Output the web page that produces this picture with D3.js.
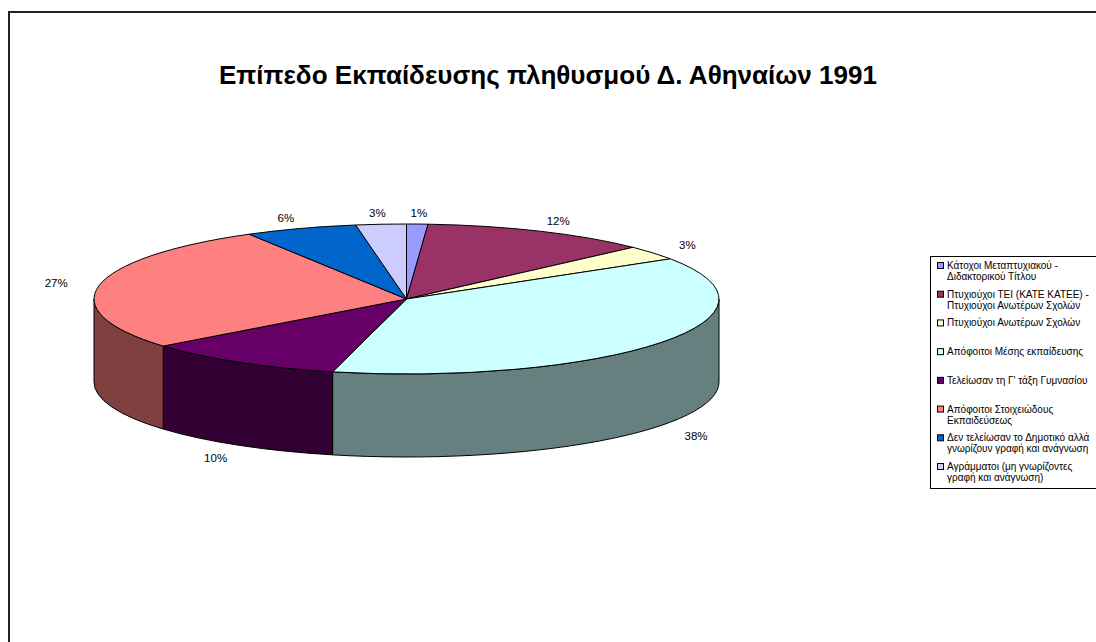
<!DOCTYPE html>
<html>
<head>
<meta charset="utf-8">
<script src="https://cdn.jsdelivr.net/npm/d3@7"></script>
<style>
  body { margin: 0; background: #fff; }
  text { font-family: "Liberation Sans", Arial, sans-serif; }
</style>
</head>
<body>
<div id="chart"></div>
<script>
const width = 1096, height = 642;

// Data (clockwise from 12 o'clock)
const categories = [
  ['Κάτοχοι Μεταπτυχιακού -', 'Διδακτορικού Τίτλου'],
  ['Πτυχιούχοι ΤΕΙ (ΚΑΤΕ ΚΑΤΕΕ) -', 'Πτυχιούχοι Ανωτέρων Σχολών'],
  ['Πτυχιούχοι Ανωτέρων Σχολών'],
  ['Απόφοιτοι Μέσης εκπαίδευσης'],
  ['Τελείωσαν τη Γ\' τάξη Γυμνασίου'],
  ['Απόφοιτοι Στοιχειώδους', 'Εκπαιδεύσεως'],
  ['Δεν τελείωσαν το Δημοτικό αλλά', 'γνωρίζουν γραφή και ανάγνωση'],
  ['Αγράμματοι (μη γνωρίζοντες', 'γραφή και ανάγνωση)']
];
const shares = [1.1, 11.8, 3.1, 37.8, 10.4, 27.4, 5.8, 2.6];
const pctLabels = ['1%', '12%', '3%', '38%', '10%', '27%', '6%', '3%'];
const colors = ['#9999FF', '#993366', '#FFFFCC', '#CCFFFF', '#660066', '#FF8080', '#0066CC', '#CCCCFF'];

const svg = d3.select('#chart').append('svg')
  .attr('width', width).attr('height', height);

// chart frame
svg.append('rect')
  .attr('x', 9).attr('y', 12).attr('width', 1200).attr('height', 800)
  .attr('fill', 'none').attr('stroke', '#222').attr('stroke-width', 2);

svg.append('text')
  .attr('x', 548).attr('y', 84)
  .attr('text-anchor', 'middle')
  .attr('font-size', 25).attr('font-weight', 'bold')
  .attr('textLength', 658).attr('lengthAdjust', 'spacingAndGlyphs')
  .text('Επίπεδο Εκπαίδευσης πληθυσμού Δ. Αθηναίων 1991');

// 3D pie geometry
const cx = 406.5, cy = 299, rx = 312.5, ry = 75, depth = 83;
const P = (a, dz = 0) => [cx + rx * Math.sin(a), cy - ry * Math.cos(a) + dz];

const arcs = d3.pie().sort(null).value(d => d)(shares);

const darker = c => { const r = d3.rgb(c); return d3.rgb(r.r * 0.5, r.g * 0.5, r.b * 0.5).toString(); };

const pie = svg.append('g');

// side walls (front half only)
arcs.forEach((d, i) => {
  const s = Math.max(d.startAngle, Math.PI / 2);
  const e = Math.min(d.endAngle, 3 * Math.PI / 2);
  if (e <= s) return;
  const p0 = P(s), p1 = P(e), q1 = P(e, depth), q0 = P(s, depth);
  const large = (e - s) > Math.PI ? 1 : 0;
  const path = `M${p0}A${rx},${ry} 0 ${large} 1 ${p1}L${q1}A${rx},${ry} 0 ${large} 0 ${q0}Z`;
  pie.append('path')
    .attr('d', path)
    .attr('fill', darker(colors[i]))
    .attr('stroke', '#000').attr('stroke-width', 1)
    .attr('stroke-linejoin', 'round');
});

// top faces
arcs.forEach((d, i) => {
  const p0 = P(d.startAngle), p1 = P(d.endAngle);
  const large = (d.endAngle - d.startAngle) > Math.PI ? 1 : 0;
  const path = `M${cx},${cy}L${p0}A${rx},${ry} 0 ${large} 1 ${p1}Z`;
  pie.append('path')
    .attr('d', path)
    .attr('fill', colors[i])
    .attr('stroke', '#000').attr('stroke-width', 1)
    .attr('stroke-linejoin', 'round');
});

// percentage labels
const k = 1.14;
arcs.forEach((d, i) => {
  const a = (d.startAngle + d.endAngle) / 2;
  const x = cx + rx * k * Math.sin(a);
  let y = cy - ry * k * Math.cos(a);
  if (Math.cos(a) < 0) y += depth + 5;
  svg.append('text')
    .attr('x', x).attr('y', y)
    .attr('text-anchor', 'middle').attr('dominant-baseline', 'middle')
    .attr('font-size', 11.5).attr('fill', '#000')
    .text(pctLabels[i]);
});

// legend
const lg = svg.append('g');
lg.append('rect')
  .attr('x', 930.5).attr('y', 256.5).attr('width', 166).attr('height', 232)
  .attr('fill', '#fff').attr('stroke', '#000').attr('stroke-width', 1);

const ly = d3.scalePoint().domain(d3.range(categories.length)).range([266, 467]);
categories.forEach((lines, i) => {
  const y = ly(i);
  lg.append('rect')
    .attr('x', 937.5).attr('y', y - 3.5).attr('width', 6).attr('height', 6)
    .attr('fill', colors[i]).attr('stroke', '#000').attr('stroke-width', 1);
  const t = lg.append('text')
    .attr('x', 947).attr('y', y)
    .attr('dominant-baseline', 'middle')
    .attr('font-size', 10).attr('fill', '#000');
  lines.forEach((ln, j) => {
    t.append('tspan').attr('x', 947).attr('dy', j === 0 ? 0 : 11).text(ln);
  });
});
</script>
</body>
</html>
